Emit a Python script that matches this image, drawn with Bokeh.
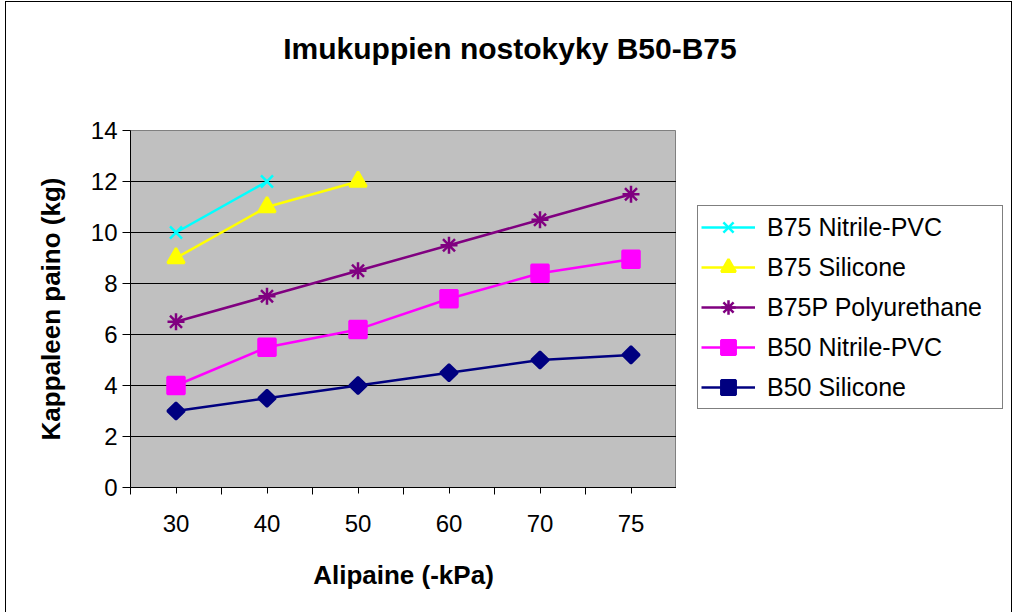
import math
from bokeh.plotting import figure
from bokeh.models import Legend, LegendItem, FixedTicker, Range1d, Div
from bokeh.layouts import row, column
from bokeh.embed import file_html
from bokeh.resources import INLINE

categories = ["30", "40", "50", "60", "70", "75"]
b75_nitrile_pvc = [10, 12]
b75_silicone = [9, 11, 12]
b75p_polyurethane = [6.5, 7.5, 8.5, 9.5, 10.5, 11.5]
b50_nitrile_pvc = [4, 5.5, 6.2, 7.4, 8.4, 8.95]
b50_silicone = [3, 3.5, 4, 4.5, 5, 5.2]
y_ticks = [0, 2, 4, 6, 8, 10, 12, 14]
title_text = "Imukuppien nostokyky B50-B75"

FONT = "Liberation Sans"

title_div = Div(
    text=('<div style="display: block; width: 1000px; margin-left: 4px; '
          'font-family: \'Liberation Sans\', Arial, sans-serif; font-weight: bold; '
          'font-size: 30px; line-height: 36px; text-align: center; padding-top: 29px; '
          'color: black;">' + title_text + '</div>'),
    width=1005, height=100, margin=0)

p = figure(frame_width=546, frame_height=357, output_backend="svg", toolbar_location=None,
           x_range=(-0.5, len(categories) - 0.5), y_range=(0, 14),
           min_border_left=124, min_border_right=0, min_border_top=28, min_border_bottom=125)
p.title.visible = False
p.background_fill_color = "#C0C0C0"
p.border_fill_color = "white"
p.outline_line_color = "#808080"
p.outline_line_width = 1

idx = list(range(len(categories)))

# x axis
p.xaxis.ticker = FixedTicker(ticks=idx, minor_ticks=[i - 0.5 for i in range(len(categories) + 1)])
p.xaxis.major_label_overrides = {i: c for i, c in enumerate(categories)}
p.xaxis.major_tick_in = 0
p.xaxis.major_tick_out = 6
p.xaxis.minor_tick_in = 0
p.xaxis.minor_tick_out = 7
p.xaxis.axis_line_color = "black"
p.xaxis.major_tick_line_color = "black"
p.xaxis.minor_tick_line_color = "black"
p.xaxis.major_label_standoff = 20
p.xaxis.axis_label = "Alipaine (-kPa)"
p.xaxis.axis_label_standoff = 25
p.xgrid.visible = False

# y axis
p.yaxis.ticker = FixedTicker(ticks=y_ticks)
p.yaxis.major_tick_in = 0
p.yaxis.major_tick_out = 8
p.yaxis.minor_tick_line_color = None
p.yaxis.axis_line_color = "black"
p.yaxis.major_tick_line_color = "black"
p.yaxis.major_label_standoff = 5
p.yaxis.axis_label = "Kappaleen paino (kg)"
p.yaxis.axis_label_standoff = 22
p.ygrid.grid_line_color = "black"
p.ygrid.grid_line_alpha = 1.0
p.ygrid.grid_line_width = 1

for ax in (p.xaxis, p.yaxis):
    ax.major_label_text_font = FONT
    ax.major_label_text_font_size = "24px"
    ax.major_label_text_color = "black"
    ax.axis_label_text_font = FONT
    ax.axis_label_text_font_size = "26px"
    ax.axis_label_text_font_style = "bold"
    ax.axis_label_text_color = "black"

series = [
    ("B75 Nitrile-PVC", b75_nitrile_pvc, "#00FFFF", "x", 17, 0),
    ("B75 Silicone", b75_silicone, "#FFFF00", "triangle", 17, 0),
    ("B75P Polyurethane", b75p_polyurethane, "#800080", "asterisk", 17, 0),
    ("B50 Nitrile-PVC", b50_nitrile_pvc, "#FF00FF", "square", 17, 0),
    ("B50 Silicone", b50_silicone, "#000080", "square", 12, math.pi / 4),
]

# legend lives in a companion figure to the right of the plot area
q = figure(width=335, height=510, output_backend="svg", toolbar_location=None,
           x_range=Range1d(-0.5, 0.5), y_range=Range1d(-2, -1), x_axis_type=None, y_axis_type=None,
           min_border_left=0, min_border_right=0, min_border_top=28, min_border_bottom=125)
q.title.visible = False
q.grid.visible = False
q.outline_line_color = None
q.background_fill_color = "white"
q.border_fill_color = "white"

items = []
for name, vals, color, marker, size, ang in series:
    xs = idx[:len(vals)]
    p.line(xs, vals, line_color=color, line_width=2.5)
    p.scatter(xs, vals, marker=marker, size=size, angle=ang, fill_color=color,
              line_color=color, line_width=2.5)
    # proxies for the legend (their data lies outside q's visible range)
    l1 = q.line(xs, vals, line_color=color, line_width=2.5)
    l2 = q.scatter(xs, vals, marker=marker, size=size, angle=ang, fill_color=color,
                   line_color=color, line_width=2.5)
    items.append(LegendItem(label=name, renderers=[l1, l2]))

legend = Legend(items=items, location=(21, 78))
legend.label_text_font = FONT
legend.label_text_font_size = "25px"
legend.label_text_color = "black"
legend.glyph_width = 54
legend.glyph_height = 36
legend.label_height = 25
legend.label_width = 232
legend.spacing = 4
legend.padding = 3
legend.margin = 0
legend.label_standoff = 12
legend.border_line_color = "black"
legend.border_line_width = 1
legend.background_fill_color = "white"
legend.background_fill_alpha = 1
q.add_layout(legend, "center")

layout = column(title_div, row(p, q, spacing=0), spacing=0)
layout.styles = {"margin-left": "5px", "margin-top": "1px", "border": "1px solid black",
                 "border-bottom": "none", "background-color": "white"}

open("out.html", "w").write(file_html(layout, INLINE))
